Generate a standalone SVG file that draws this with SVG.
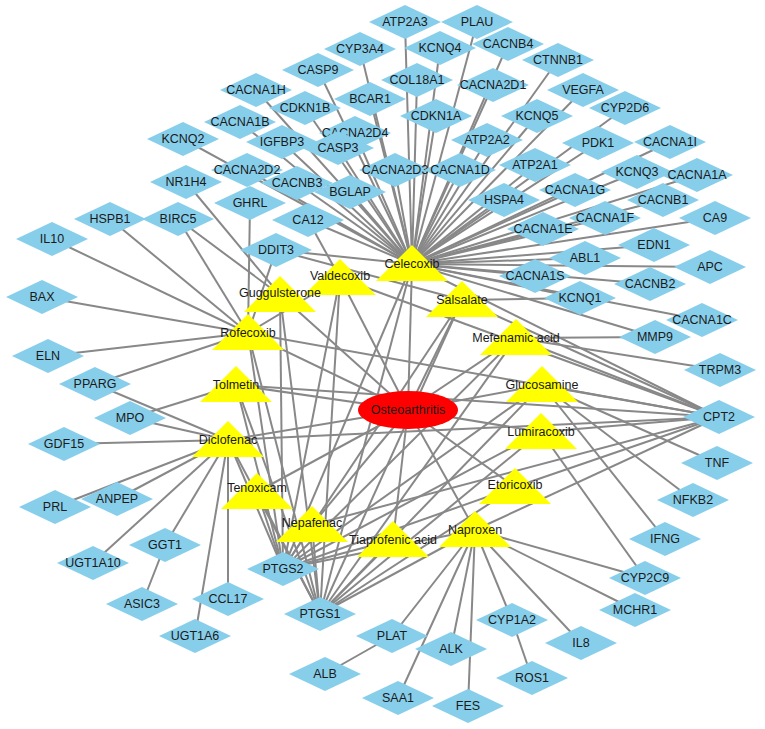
<svg xmlns="http://www.w3.org/2000/svg" xmlns:xlink="http://www.w3.org/1999/xlink" width="765" height="729" viewBox="0 0 765 729">
<style>
.e line{stroke:#888;stroke-width:2}
.dm{fill:#87ceeb}
.tr{fill:#ffff00}
text{font-family:"Liberation Sans",Arial,sans-serif;font-size:12.5px;text-anchor:middle;dominant-baseline:central;fill:#1a1a1a}
</style>
<defs>
<path id="dm" class="dm" d="M-36,0 L0,-17 L36,0 L0,17Z"/>
<path id="tr" class="tr" d="M0,-19 L36,17 L-36,17Z"/>
</defs>
<rect width="765" height="729" fill="#fff"/>
<g class="e" id="edges">
<!-- Celecoxib hub -->
<line x1="412" y1="264" x2="405" y2="22"/><line x1="412" y1="264" x2="477" y2="22"/><line x1="412" y1="264" x2="360" y2="49"/><line x1="412" y1="264" x2="440" y2="48"/><line x1="412" y1="264" x2="508" y2="44"/><line x1="412" y1="264" x2="558" y2="60"/><line x1="412" y1="264" x2="318" y2="70"/><line x1="412" y1="264" x2="417" y2="80"/><line x1="412" y1="264" x2="493" y2="85"/><line x1="412" y1="264" x2="583" y2="90"/><line x1="412" y1="264" x2="256" y2="90"/><line x1="412" y1="264" x2="305" y2="108"/><line x1="412" y1="264" x2="370" y2="99"/><line x1="412" y1="264" x2="625" y2="108"/><line x1="412" y1="264" x2="436" y2="116"/><line x1="412" y1="264" x2="537" y2="116"/><line x1="412" y1="264" x2="240" y2="122"/><line x1="412" y1="264" x2="355" y2="133"/><line x1="412" y1="264" x2="183" y2="139"/><line x1="412" y1="264" x2="282" y2="142"/><line x1="412" y1="264" x2="338" y2="148"/><line x1="412" y1="264" x2="487" y2="140"/><line x1="412" y1="264" x2="598" y2="143"/><line x1="412" y1="264" x2="670" y2="142"/><line x1="412" y1="264" x2="247" y2="170"/><line x1="412" y1="264" x2="297" y2="183"/><line x1="412" y1="264" x2="350" y2="192"/><line x1="412" y1="264" x2="395" y2="170"/><line x1="412" y1="264" x2="460" y2="170"/><line x1="412" y1="264" x2="535" y2="165"/><line x1="412" y1="264" x2="637" y2="172"/><line x1="412" y1="264" x2="697" y2="175"/><line x1="412" y1="264" x2="504" y2="200"/><line x1="412" y1="264" x2="575" y2="190"/><line x1="412" y1="264" x2="663" y2="200"/><line x1="412" y1="264" x2="308" y2="220"/><line x1="412" y1="264" x2="605" y2="218"/><line x1="412" y1="264" x2="543" y2="229"/><line x1="412" y1="264" x2="715" y2="218"/><line x1="412" y1="264" x2="276" y2="250"/><line x1="412" y1="264" x2="654" y2="245"/><line x1="412" y1="264" x2="585" y2="258"/><line x1="412" y1="264" x2="710" y2="267"/><line x1="412" y1="264" x2="535" y2="276"/><line x1="412" y1="264" x2="650" y2="284"/><line x1="412" y1="264" x2="580" y2="298"/><line x1="412" y1="264" x2="702" y2="320"/><line x1="412" y1="264" x2="655" y2="337"/><line x1="412" y1="264" x2="283" y2="569"/><line x1="412" y1="264" x2="320" y2="614"/><line x1="412" y1="264" x2="719" y2="417"/>
<!-- Osteoarthritis to drugs -->
<line x1="408" y1="410" x2="412" y2="264"/><line x1="408" y1="410" x2="340" y2="278"/><line x1="408" y1="410" x2="280" y2="295"/><line x1="408" y1="410" x2="462" y2="300"/><line x1="408" y1="410" x2="248" y2="333"/><line x1="408" y1="410" x2="516" y2="338"/><line x1="408" y1="410" x2="236" y2="385"/><line x1="408" y1="410" x2="542" y2="385"/><line x1="408" y1="410" x2="228" y2="440"/><line x1="408" y1="410" x2="541" y2="432"/><line x1="408" y1="410" x2="257" y2="492"/><line x1="408" y1="410" x2="515" y2="487"/><line x1="408" y1="410" x2="312" y2="525"/><line x1="408" y1="410" x2="393" y2="540"/><line x1="408" y1="410" x2="475" y2="530"/>
<!-- Rofecoxib -->
<line x1="248" y1="333" x2="52" y2="239"/><line x1="248" y1="333" x2="42" y2="297"/><line x1="248" y1="333" x2="48" y2="356"/><line x1="248" y1="333" x2="110" y2="219"/><line x1="248" y1="333" x2="178" y2="219"/><line x1="248" y1="333" x2="250" y2="203"/><line x1="248" y1="333" x2="276" y2="250"/><line x1="248" y1="333" x2="283" y2="569"/><line x1="248" y1="333" x2="320" y2="614"/><line x1="248" y1="333" x2="719" y2="417"/><line x1="248" y1="333" x2="340" y2="278"/>
<line x1="280" y1="295" x2="186" y2="182"/><line x1="280" y1="295" x2="178" y2="219"/><line x1="280" y1="295" x2="320" y2="614"/><line x1="280" y1="295" x2="283" y2="569"/>
<line x1="340" y1="278" x2="308" y2="220"/><line x1="340" y1="278" x2="283" y2="569"/><line x1="340" y1="278" x2="320" y2="614"/><line x1="340" y1="278" x2="719" y2="417"/><line x1="276" y1="250" x2="462" y2="300"/>
<line x1="462" y1="300" x2="580" y2="298"/><line x1="462" y1="300" x2="283" y2="569"/><line x1="462" y1="300" x2="320" y2="614"/><line x1="462" y1="300" x2="719" y2="417"/>
<line x1="516" y1="338" x2="655" y2="337"/><line x1="516" y1="338" x2="720" y2="370"/><line x1="516" y1="338" x2="283" y2="569"/><line x1="516" y1="338" x2="320" y2="614"/><line x1="516" y1="338" x2="719" y2="417"/>
<!-- Tolmetin -->
<line x1="236" y1="385" x2="130" y2="418"/><line x1="236" y1="385" x2="283" y2="569"/><line x1="236" y1="385" x2="320" y2="614"/><line x1="236" y1="385" x2="719" y2="417"/>
<!-- Diclofenac -->
<line x1="228" y1="440" x2="95" y2="384"/><line x1="228" y1="440" x2="130" y2="418"/><line x1="228" y1="440" x2="64" y2="444"/><line x1="228" y1="440" x2="55" y2="507"/><line x1="228" y1="440" x2="117" y2="499"/><line x1="228" y1="440" x2="93" y2="563"/><line x1="228" y1="440" x2="165" y2="545"/><line x1="228" y1="440" x2="195" y2="636"/><line x1="228" y1="440" x2="228" y2="599"/><line x1="228" y1="440" x2="283" y2="569"/><line x1="228" y1="440" x2="320" y2="614"/><line x1="228" y1="440" x2="719" y2="417"/><line x1="95" y1="384" x2="248" y2="333"/>
<line x1="165" y1="545" x2="142" y2="604"/>
<line x1="257" y1="492" x2="283" y2="569"/><line x1="257" y1="492" x2="320" y2="614"/>
<line x1="312" y1="525" x2="283" y2="569"/><line x1="312" y1="525" x2="320" y2="614"/><line x1="312" y1="525" x2="719" y2="417"/>
<line x1="393" y1="540" x2="283" y2="569"/><line x1="393" y1="540" x2="320" y2="614"/>
<!-- Glucosamine, Lumiracoxib, Etoricoxib -->
<line x1="542" y1="385" x2="719" y2="417"/><line x1="542" y1="385" x2="717" y2="463"/><line x1="542" y1="385" x2="693" y2="500"/><line x1="542" y1="385" x2="665" y2="539"/><line x1="542" y1="385" x2="283" y2="569"/><line x1="542" y1="385" x2="320" y2="614"/>
<line x1="541" y1="432" x2="645" y2="578"/><line x1="541" y1="432" x2="719" y2="417"/><line x1="541" y1="432" x2="283" y2="569"/><line x1="541" y1="432" x2="320" y2="614"/>
<line x1="515" y1="487" x2="719" y2="417"/><line x1="515" y1="487" x2="283" y2="569"/><line x1="515" y1="487" x2="320" y2="614"/>
<!-- Naproxen -->
<line x1="475" y1="530" x2="320" y2="614"/><line x1="475" y1="530" x2="283" y2="569"/><line x1="475" y1="530" x2="392" y2="636"/><line x1="475" y1="530" x2="451" y2="649"/><line x1="475" y1="530" x2="398" y2="698"/><line x1="475" y1="530" x2="468" y2="706"/><line x1="475" y1="530" x2="512" y2="620"/><line x1="475" y1="530" x2="581" y2="643"/><line x1="475" y1="530" x2="635" y2="610"/><line x1="475" y1="530" x2="645" y2="578"/><line x1="475" y1="530" x2="719" y2="417"/>
<line x1="512" y1="620" x2="532" y2="678"/><line x1="392" y1="636" x2="325" y2="674"/>
</g>
<g id="diamonds">
<g id="ATP2A3"><use href="#dm" x="405" y="22"/><text x="405" y="22">ATP2A3</text></g>
<g id="PLAU"><use href="#dm" x="477" y="22"/><text x="477" y="22">PLAU</text></g>
<g id="CYP3A4"><use href="#dm" x="360" y="49"/><text x="360" y="49">CYP3A4</text></g>
<g id="KCNQ4"><use href="#dm" x="440" y="48"/><text x="440" y="48">KCNQ4</text></g>
<g id="CACNB4"><use href="#dm" x="508" y="44"/><text x="508" y="44">CACNB4</text></g>
<g id="CTNNB1"><use href="#dm" x="558" y="60"/><text x="558" y="60">CTNNB1</text></g>
<g id="CASP9"><use href="#dm" x="318" y="70"/><text x="318" y="70">CASP9</text></g>
<g id="COL18A1"><use href="#dm" x="417" y="80"/><text x="417" y="80">COL18A1</text></g>
<g id="CACNA2D1"><use href="#dm" x="493" y="85"/><text x="493" y="85">CACNA2D1</text></g>
<g id="VEGFA"><use href="#dm" x="583" y="90"/><text x="583" y="90">VEGFA</text></g>
<g id="CACNA1H"><use href="#dm" x="256" y="90"/><text x="256" y="90">CACNA1H</text></g>
<g id="BCAR1"><use href="#dm" x="370" y="99"/><text x="370" y="99">BCAR1</text></g>
<g id="CDKN1B"><use href="#dm" x="305" y="108"/><text x="305" y="108">CDKN1B</text></g>
<g id="CYP2D6"><use href="#dm" x="625" y="108"/><text x="625" y="108">CYP2D6</text></g>
<g id="CDKN1A"><use href="#dm" x="436" y="116"/><text x="436" y="116">CDKN1A</text></g>
<g id="KCNQ5"><use href="#dm" x="537" y="116"/><text x="537" y="116">KCNQ5</text></g>
<g id="CACNA1B"><use href="#dm" x="240" y="122"/><text x="240" y="122">CACNA1B</text></g>
<g id="CACNA2D4"><use href="#dm" x="355" y="133"/><text x="355" y="133">CACNA2D4</text></g>
<g id="KCNQ2"><use href="#dm" x="183" y="139"/><text x="183" y="139">KCNQ2</text></g>
<g id="IGFBP3"><use href="#dm" x="282" y="142"/><text x="282" y="142">IGFBP3</text></g>
<g id="CASP3"><use href="#dm" x="338" y="148"/><text x="338" y="148">CASP3</text></g>
<g id="ATP2A2"><use href="#dm" x="487" y="140"/><text x="487" y="140">ATP2A2</text></g>
<g id="PDK1"><use href="#dm" x="598" y="143"/><text x="598" y="143">PDK1</text></g>
<g id="CACNA1I"><use href="#dm" x="670" y="142"/><text x="670" y="142">CACNA1I</text></g>
<g id="CACNA2D2"><use href="#dm" x="247" y="170"/><text x="247" y="170">CACNA2D2</text></g>
<g id="CACNA2D3"><use href="#dm" x="395" y="170"/><text x="395" y="170">CACNA2D3</text></g>
<g id="CACNA1D"><use href="#dm" x="460" y="170"/><text x="460" y="170">CACNA1D</text></g>
<g id="ATP2A1"><use href="#dm" x="535" y="165"/><text x="535" y="165">ATP2A1</text></g>
<g id="KCNQ3"><use href="#dm" x="637" y="172"/><text x="637" y="172">KCNQ3</text></g>
<g id="CACNA1A"><use href="#dm" x="697" y="175"/><text x="697" y="175">CACNA1A</text></g>
<g id="CACNB3"><use href="#dm" x="297" y="183"/><text x="297" y="183">CACNB3</text></g>
<g id="BGLAP"><use href="#dm" x="350" y="192"/><text x="350" y="192">BGLAP</text></g>
<g id="NR1H4"><use href="#dm" x="186" y="182"/><text x="186" y="182">NR1H4</text></g>
<g id="HSPA4"><use href="#dm" x="504" y="200"/><text x="504" y="200">HSPA4</text></g>
<g id="CACNA1G"><use href="#dm" x="575" y="190"/><text x="575" y="190">CACNA1G</text></g>
<g id="CACNB1"><use href="#dm" x="663" y="200"/><text x="663" y="200">CACNB1</text></g>
<g id="GHRL"><use href="#dm" x="250" y="203"/><text x="250" y="203">GHRL</text></g>
<g id="HSPB1"><use href="#dm" x="110" y="219"/><text x="110" y="219">HSPB1</text></g>
<g id="BIRC5"><use href="#dm" x="178" y="219"/><text x="178" y="219">BIRC5</text></g>
<g id="CA12"><use href="#dm" x="308" y="220"/><text x="308" y="220">CA12</text></g>
<g id="CACNA1F"><use href="#dm" x="605" y="218"/><text x="605" y="218">CACNA1F</text></g>
<g id="CACNA1E"><use href="#dm" x="543" y="229"/><text x="543" y="229">CACNA1E</text></g>
<g id="CA9"><use href="#dm" x="715" y="218"/><text x="715" y="218">CA9</text></g>
<g id="IL10"><use href="#dm" x="52" y="239"/><text x="52" y="239">IL10</text></g>
<g id="DDIT3"><use href="#dm" x="276" y="250"/><text x="276" y="250">DDIT3</text></g>
<g id="EDN1"><use href="#dm" x="654" y="245"/><text x="654" y="245">EDN1</text></g>
<g id="ABL1"><use href="#dm" x="585" y="258"/><text x="585" y="258">ABL1</text></g>
<g id="APC"><use href="#dm" x="710" y="267"/><text x="710" y="267">APC</text></g>
<g id="CACNA1S"><use href="#dm" x="535" y="276"/><text x="535" y="276">CACNA1S</text></g>
<g id="CACNB2"><use href="#dm" x="650" y="284"/><text x="650" y="284">CACNB2</text></g>
<g id="BAX"><use href="#dm" x="42" y="297"/><text x="42" y="297">BAX</text></g>
<g id="KCNQ1"><use href="#dm" x="580" y="298"/><text x="580" y="298">KCNQ1</text></g>
<g id="CACNA1C"><use href="#dm" x="702" y="320"/><text x="702" y="320">CACNA1C</text></g>
<g id="MMP9"><use href="#dm" x="655" y="337"/><text x="655" y="337">MMP9</text></g>
<g id="ELN"><use href="#dm" x="48" y="356"/><text x="48" y="356">ELN</text></g>
<g id="TRPM3"><use href="#dm" x="720" y="370"/><text x="720" y="370">TRPM3</text></g>
<g id="PPARG"><use href="#dm" x="95" y="384"/><text x="95" y="384">PPARG</text></g>
<g id="MPO"><use href="#dm" x="130" y="418"/><text x="130" y="418">MPO</text></g>
<g id="CPT2"><use href="#dm" x="719" y="417"/><text x="719" y="417">CPT2</text></g>
<g id="GDF15"><use href="#dm" x="64" y="444"/><text x="64" y="444">GDF15</text></g>
<g id="TNF"><use href="#dm" x="717" y="463"/><text x="717" y="463">TNF</text></g>
<g id="PRL"><use href="#dm" x="55" y="507"/><text x="55" y="507">PRL</text></g>
<g id="ANPEP"><use href="#dm" x="117" y="499"/><text x="117" y="499">ANPEP</text></g>
<g id="NFKB2"><use href="#dm" x="693" y="500"/><text x="693" y="500">NFKB2</text></g>
<g id="GGT1"><use href="#dm" x="165" y="545"/><text x="165" y="545">GGT1</text></g>
<g id="IFNG"><use href="#dm" x="665" y="539"/><text x="665" y="539">IFNG</text></g>
<g id="UGT1A10"><use href="#dm" x="93" y="563"/><text x="93" y="563">UGT1A10</text></g>
<g id="PTGS2"><use href="#dm" x="283" y="569"/><text x="283" y="569">PTGS2</text></g>
<g id="CYP2C9"><use href="#dm" x="645" y="578"/><text x="645" y="578">CYP2C9</text></g>
<g id="ASIC3"><use href="#dm" x="142" y="604"/><text x="142" y="604">ASIC3</text></g>
<g id="CCL17"><use href="#dm" x="228" y="599"/><text x="228" y="599">CCL17</text></g>
<g id="PTGS1"><use href="#dm" x="320" y="614"/><text x="320" y="614">PTGS1</text></g>
<g id="MCHR1"><use href="#dm" x="635" y="610"/><text x="635" y="610">MCHR1</text></g>
<g id="UGT1A6"><use href="#dm" x="195" y="636"/><text x="195" y="636">UGT1A6</text></g>
<g id="PLAT"><use href="#dm" x="392" y="636"/><text x="392" y="636">PLAT</text></g>
<g id="CYP1A2"><use href="#dm" x="512" y="620"/><text x="512" y="620">CYP1A2</text></g>
<g id="IL8"><use href="#dm" x="581" y="643"/><text x="581" y="643">IL8</text></g>
<g id="ALK"><use href="#dm" x="451" y="649"/><text x="451" y="649">ALK</text></g>
<g id="ALB"><use href="#dm" x="325" y="674"/><text x="325" y="674">ALB</text></g>
<g id="ROS1"><use href="#dm" x="532" y="678"/><text x="532" y="678">ROS1</text></g>
<g id="SAA1"><use href="#dm" x="398" y="698"/><text x="398" y="698">SAA1</text></g>
<g id="FES"><use href="#dm" x="468" y="706"/><text x="468" y="706">FES</text></g>
</g>
<g id="drugs">
<g id="Celecoxib"><use href="#tr" x="412" y="264"/><text x="412" y="264">Celecoxib</text></g>
<g id="Valdecoxib"><use href="#tr" x="340" y="278"/><text x="340" y="276">Valdecoxib</text></g>
<g id="Guggulsterone"><use href="#tr" x="280" y="295"/><text x="280" y="293">Guggulsterone</text></g>
<g id="Salsalate"><use href="#tr" x="462" y="300"/><text x="462" y="300">Salsalate</text></g>
<g id="Rofecoxib"><use href="#tr" x="248" y="333"/><text x="248" y="333">Rofecoxib</text></g>
<g id="Mefenamic"><use href="#tr" x="516" y="338"/><text x="516" y="338">Mefenamic acid</text></g>
<g id="Tolmetin"><use href="#tr" x="236" y="385"/><text x="236" y="385">Tolmetin</text></g>
<g id="Glucosamine"><use href="#tr" x="542" y="385"/><text x="542" y="385">Glucosamine</text></g>
<g id="Diclofenac"><use href="#tr" x="228" y="440"/><text x="228" y="440">Diclofenac</text></g>
<g id="Lumiracoxib"><use href="#tr" x="541" y="432"/><text x="541" y="432">Lumiracoxib</text></g>
<g id="Tenoxicam"><use href="#tr" x="257" y="492"/><text x="257" y="488">Tenoxicam</text></g>
<g id="Etoricoxib"><use href="#tr" x="515" y="487"/><text x="515" y="485">Etoricoxib</text></g>
<g id="Nepafenac"><use href="#tr" x="312" y="525"/><text x="312" y="523">Nepafenac</text></g>
<g id="Tiaprofenic"><use href="#tr" x="393" y="540"/><text x="393" y="540">Tiaprofenic acid</text></g>
<g id="Naproxen"><use href="#tr" x="475" y="530"/><text x="475" y="530">Naproxen</text></g>
<g id="Osteoarthritis"><ellipse cx="408" cy="410" rx="50" ry="19" fill="#ff0000"/><text x="408" y="410">Osteoarthritis</text></g>
</g>
</svg>
